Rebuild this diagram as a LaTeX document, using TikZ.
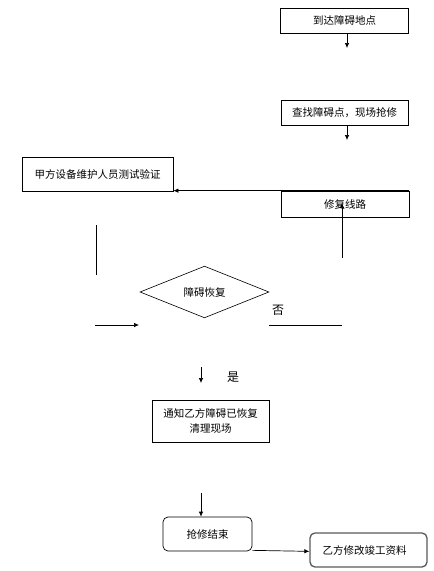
\documentclass[tikz,border=0pt]{standalone}
\usepackage{fontspec}
\setmainfont{Noto Sans CJK SC}
\usetikzlibrary{arrows.meta,positioning,shapes.geometric}

\begin{document}
\begin{tikzpicture}[x=1pt, y=-1pt,
        box/.style={draw, line width=0.7pt, minimum width=128pt, minimum height=25pt,
                    align=center, inner sep=1pt, font=\fontsize{10.5}{15}\selectfont},
        endbox/.style={box, rounded corners=5pt},
        ask/.style={draw, diamond, line width=0.6pt, minimum width=129pt, minimum height=50pt,
                    inner sep=0pt, font=\fontsize{10.5}{13}\selectfont},
        tag/.style={font=\fontsize{12}{14}\selectfont},
        arr/.style={line width=0.7pt, -{Latex[length=5pt,width=4.5pt]}},
        plain/.style={line width=0.7pt}
    ]
        \useasboundingbox (0,0) rectangle (434,571);

        \node[box] (reach) at (344.5,20.5) {到达障碍地点};
        \node[box, minimum width=127pt] (search) at (344.5,112.5) {查找障碍点，现场抢修};
        \node[box, minimum height=26pt] (fix) at (345,204) {修复线路};
        \node[box, minimum width=151pt, minimum height=34pt] (verify) at (97.5,174) {甲方设备维护人员测试验证};
        \node[ask] (restored) at (204.5,292) {障碍恢复\hspace{12pt}};
        \node[box, minimum width=117pt, minimum height=42pt] (notify) at (210.5,421)
            {通知乙方障碍已恢复\\清理现场};
        \node[endbox, minimum width=89pt, minimum height=34pt] (finish) at (207.5,534) {抢修结束};
        \node[endbox, minimum width=117pt, minimum height=34pt, draw=black!65, line width=1.3pt]
            (docs) at (368.5,550) {乙方修改竣工资料\hspace{8pt}};
        \node[tag] (no) at (278,310) {否};
        \node[tag] (yes) at (233,377) {是};

        \coordinate (a1) at (347,48);
        \coordinate (a2) at (347,140);
        \coordinate (b1) at (342,258);
        \coordinate (b2) at (342,203);
        \coordinate (c1) at (96,225);
        \coordinate (c2) at (96,275);
        \coordinate (d1) at (95,325);
        \coordinate (d2) at (139,325);
        \coordinate (e1) at (269,325);
        \coordinate (e2) at (342,325);
        \coordinate (f1) at (201,367);
        \coordinate (f2) at (201,383);
        \coordinate (g1) at (201,493);

        \draw[arr] (reach.south -| a1) -- (a1);
        \draw[arr] (search.south -| a2) -- (a2);
        \draw[arr] (fix.north east) -- (fix.north east -| verify.east);
        \draw[arr] (b1) -- (b2);
        \draw[plain] (c1) -- (c2);
        \draw[arr] (d1) -- (d2);
        \draw[plain] (e1) -- (e2);
        \draw[arr] (f1) -- (f2);
        \draw[arr] (g1) -- (g1 |- finish.north);
        \draw[arr] (finish.south east) ++(0,-1) -- (docs.west |- finish.south);
    \end{tikzpicture}
\end{document}
